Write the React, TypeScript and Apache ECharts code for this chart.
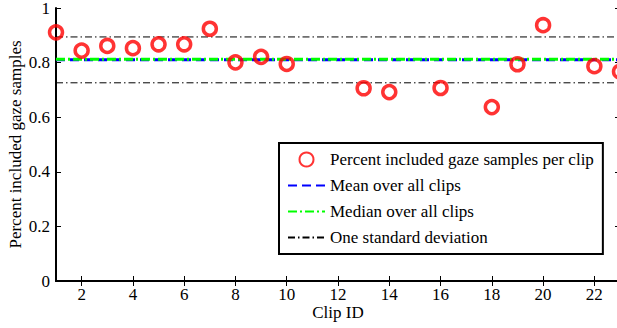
import React, { useEffect, useRef } from "react";
import * as echarts from "echarts";

const clipIds = [1, 2, 3, 4, 5, 6, 7, 8, 9, 10, 13, 14, 16, 18, 19, 20, 22, 23];
const percentIncluded = [
  0.911, 0.844, 0.861, 0.853, 0.867, 0.867, 0.924, 0.801, 0.821, 0.795,
  0.706, 0.692, 0.707, 0.637, 0.794, 0.937, 0.787, 0.767,
];
const meanValue = 0.81;
const medianValue = 0.812;
const stdUpper = 0.894;
const stdLower = 0.726;
const xRange = [1, 23];
const xTickValues = [2, 4, 6, 8, 10, 12, 14, 16, 18, 20, 22];
const yTickLabels = ["0", "0.2", "0.4", "0.6", "0.8", "1"];

const seriesNames = [
  "Percent included gaze samples per clip",
  "Mean over all clips",
  "Median over all clips",
  "One standard deviation",
];

const FONT = "'Liberation Serif', 'Times New Roman', serif";

export default function App() {
  const ref = useRef<HTMLDivElement>(null);
  useEffect(() => {
    if (!ref.current) return;
    const chart = echarts.init(ref.current, undefined, { renderer: "svg" });
    const hline = (v: number) => [
      [xRange[0], v],
      [xRange[1], v],
    ];
    const baseX = {
      type: "value",
      min: xRange[0],
      max: xRange[1],
      splitLine: { show: false },
      axisLine: { lineStyle: { color: "#000", width: 2 } },
      axisTick: {
        inside: true,
        length: 5,
        customValues: xTickValues,
        lineStyle: { color: "#000", width: 1 },
      },
    };
    const baseY = {
      type: "value",
      min: 0,
      max: 1,
      interval: 0.2,
      splitLine: { show: false },
      axisLine: { lineStyle: { color: "#000", width: 2 } },
      axisTick: { inside: true, length: 5, lineStyle: { color: "#000", width: 1 } },
    };
    chart.setOption({
      animation: false,
      textStyle: { fontFamily: FONT },
      grid: {
        left: 56,
        top: 8,
        bottom: 47,
        right: -3,
        containLabel: false,
        outerBoundsMode: "none",
      },
      xAxis: [
        {
          ...baseX,
          position: "bottom",
          name: "Clip ID",
          nameLocation: "middle",
          nameGap: 25,
          nameMoveOverlap: false,
          nameTextStyle: { fontFamily: FONT, fontSize: 17, lineHeight: 13, color: "#000" },
          axisLabel: {
            customValues: xTickValues,
            margin: 7,
            fontFamily: FONT,
            fontSize: 17,
            lineHeight: 13,
            color: "#000",
          },
        },
        {
          ...baseX,
          position: "top",
          axisLabel: { show: false },
        },
      ],
      yAxis: [
        {
          ...baseY,
          position: "left",
          name: "Percent included gaze samples",
          nameLocation: "middle",
          nameGap: 32,
          nameMoveOverlap: false,
          nameTextStyle: { fontFamily: FONT, fontSize: 17, color: "#000" },
          axisLabel: {
            margin: 6,
            fontFamily: FONT,
            fontSize: 17,
            color: "#000",
            formatter: (v: number) => yTickLabels[Math.round(v / 0.2)],
          },
        },
        {
          ...baseY,
          position: "right",
          axisLabel: { show: false },
        },
      ],
      legend: {
        show: true,
        orient: "vertical",
        left: 279,
        top: 143,
        padding: [8, 9, 8, 8],
        itemWidth: 37,
        itemHeight: 14,
        itemGap: 9,
        borderColor: "#000",
        borderWidth: 2,
        backgroundColor: "#fff",
        textStyle: { fontFamily: FONT, fontSize: 17, color: "#000" },
        data: [
          { name: seriesNames[0] },
          { name: seriesNames[1], itemStyle: { opacity: 0 } },
          { name: seriesNames[2], itemStyle: { opacity: 0 } },
          { name: seriesNames[3], itemStyle: { opacity: 0 } },
        ],
      },
      series: [
        {
          name: seriesNames[1],
          type: "line",
          data: hline(meanValue),
          symbol: "none",
          z: 2,
          lineStyle: { color: "#0000ff", width: 3, type: [9, 5] },
          itemStyle: { color: "#0000ff" },
        },
        {
          name: seriesNames[2],
          type: "line",
          data: hline(medianValue),
          symbol: "none",
          z: 3,
          lineStyle: { color: "#00ff00", width: 3, type: [9, 3, 2, 3] },
          itemStyle: { color: "#00ff00" },
        },
        {
          name: seriesNames[3],
          type: "line",
          data: hline(stdUpper),
          symbol: "none",
          z: 2,
          lineStyle: { color: "#000", width: 1, type: [7, 3, 1.5, 3] },
          itemStyle: { color: "#000" },
        },
        {
          name: seriesNames[3],
          type: "line",
          data: hline(stdLower),
          symbol: "none",
          z: 2,
          lineStyle: { color: "#000", width: 1, type: [7, 3, 1.5, 3] },
          itemStyle: { color: "#000" },
        },
        {
          name: seriesNames[0],
          type: "scatter",
          data: clipIds.map((c, i) => [c, percentIncluded[i]]),
          symbol: "circle",
          symbolSize: 13,
          z: 5,
          itemStyle: { color: "rgba(0,0,0,0)", borderColor: "#ff0000", borderWidth: 3.5 },
        },
      ],
    });
    return () => chart.dispose();
  }, []);
  return (
    <div
      ref={ref}
      style={{ position: "fixed", left: 0, top: 0, width: 617, height: 328, background: "#fff" }}
    />
  );
}
